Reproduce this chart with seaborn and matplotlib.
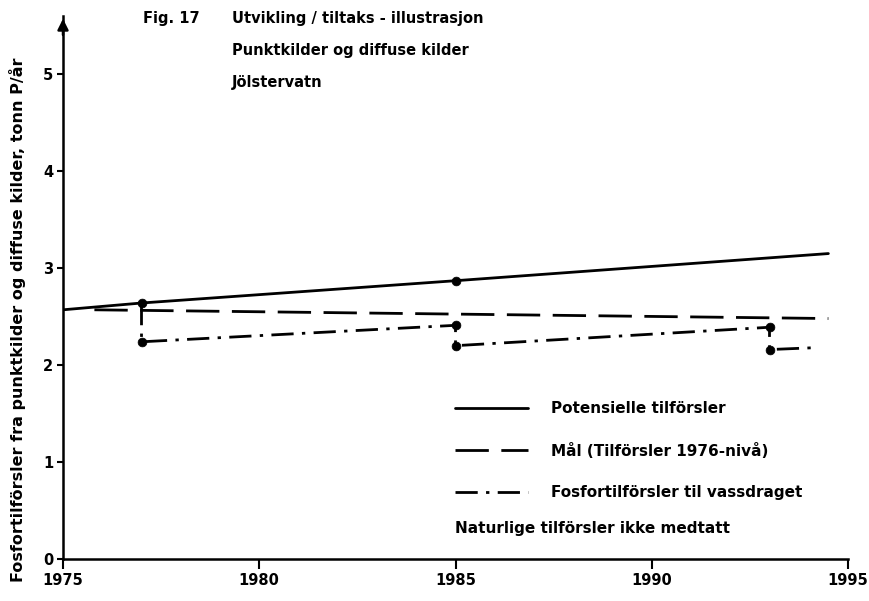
import matplotlib
matplotlib.use("Agg")
import matplotlib.pyplot as plt
from matplotlib.lines import Line2D
import seaborn as sns
import pandas as pd

# ---- data ----
pot_years = [1975, 1977, 1985, 1994.5]
pot_vals = [2.57, 2.64, 2.87, 3.15]

goal_years = [1975.8, 1994.5]
goal_vals = [2.57, 2.48]

fos_years = [1977, 1977, 1985, 1985, 1993, 1993, 1994.2]
fos_vals = [2.64, 2.24, 2.41, 2.20, 2.39, 2.16, 2.18]

marker_years = [1977, 1977, 1985, 1985, 1985, 1993, 1993]
marker_vals = [2.64, 2.24, 2.87, 2.41, 2.20, 2.39, 2.16]

x_ticks = [1975, 1980, 1985, 1990, 1995]
y_ticks = [0, 1, 2, 3, 4, 5]

legend_labels = ["Potensielle tilförsler",
                 "Mål (Tilförsler 1976-nivå)",
                 "Fosfortilförsler til vassdraget"]
note_text = "Naturlige tilförsler ikke medtatt"
title_fig = "Fig. 17"
title_lines = ["Utvikling / tiltaks - illustrasjon",
               "Punktkilder og diffuse kilder",
               "Jölstervatn"]
ylabel = "Fosfortilförsler fra punktkilder og diffuse kilder, tonn P/år"

# ---- style ----
sns.set_style("ticks")
plt.rcParams["font.family"] = ["DejaVu Sans"]
plt.rcParams["font.weight"] = "bold"
for k in ["text.color", "axes.labelcolor", "xtick.color", "ytick.color",
          "axes.edgecolor"]:
    plt.rcParams[k] = "black"

W, H = 869, 601
fig = plt.figure(figsize=(W / 100, H / 100), dpi=100)
x0, x1, y0, y1 = 63, 848, 559, 16
ax = fig.add_axes([x0 / W, 1 - y0 / H, (x1 - x0) / W, (y0 - y1) / H])

lw = 2.0
solid_ls = "-"
dash_ls = (0, (12, 4.5))
dashdot_ls = (0, (8, 3, 1.2, 3))

pot = pd.DataFrame({"year": pot_years, "val": pot_vals})
goal = pd.DataFrame({"year": goal_years, "val": goal_vals})
fos = pd.DataFrame({"year": fos_years, "val": fos_vals})
mk = pd.DataFrame({"year": marker_years, "val": marker_vals})

sns.lineplot(data=pot, x="year", y="val", ax=ax, color="black", lw=lw,
             sort=False, estimator=None, linestyle=solid_ls)
sns.lineplot(data=goal, x="year", y="val", ax=ax, color="black", lw=lw,
             sort=False, estimator=None, linestyle=dash_ls)
sns.lineplot(data=fos, x="year", y="val", ax=ax, color="black", lw=lw,
             sort=False, estimator=None, linestyle=dashdot_ls)
sns.scatterplot(data=mk, x="year", y="val", ax=ax, color="black", s=40,
                edgecolor="black", zorder=5)

ax.set_xlim(1975, 1995)
ax.set_ylim(0, 5.6)
ax.set_xticks(x_ticks)
ax.set_yticks(y_ticks)
ax.set_xticklabels([str(t) for t in x_ticks], fontsize=10.5, fontweight="bold")
ax.set_yticklabels([str(t) for t in y_ticks], fontsize=10.5, fontweight="bold")
ax.tick_params(axis="x", direction="out", length=7, width=1.5, pad=3)
ax.tick_params(axis="y", direction="out", length=4, width=1.5, pad=3)
ax.set_xlabel("")
ax.set_ylabel("")
for s in ["top", "right"]:
    ax.spines[s].set_visible(False)
for s in ["left", "bottom"]:
    ax.spines[s].set_linewidth(1.8)
    ax.spines[s].set_color("black")

# arrow on top of y axis
ax.annotate("", xy=(0, 1.0), xytext=(0, 0.96), xycoords="axes fraction",
            arrowprops=dict(arrowstyle="-|>", color="black", lw=1.8,
                            mutation_scale=16), annotation_clip=False)

# titles
fig.text(143 / W, 1 - 18 / H, title_fig, fontsize=10.5, va="center", ha="left")
for i, (t, yy) in enumerate(zip(title_lines, [18, 51, 83])):
    fig.text(232 / W, 1 - yy / H, t, fontsize=10.5, va="center", ha="left")

fig.text(18 / W, 1 - 320 / H, ylabel, rotation=90, fontsize=11.5,
         va="center", ha="center")

handles = [Line2D([], [], color="black", lw=lw, linestyle=solid_ls),
           Line2D([], [], color="black", lw=lw, linestyle=dash_ls),
           Line2D([], [], color="black", lw=lw, linestyle=dashdot_ls)]
leg = ax.legend(handles, legend_labels, loc="upper left",
                bbox_to_anchor=(455 / W, 1 - 401 / H),
                bbox_transform=fig.transFigure, frameon=False,
                fontsize=11, handlelength=4.8, handletextpad=1.5,
                labelspacing=1.75, borderpad=0, borderaxespad=0)
for t in leg.get_texts():
    t.set_fontweight("bold")

fig.text(455 / W, 1 - 528 / H, note_text, fontsize=11, va="center", ha="left")

fig.savefig("out.png", dpi=100)
